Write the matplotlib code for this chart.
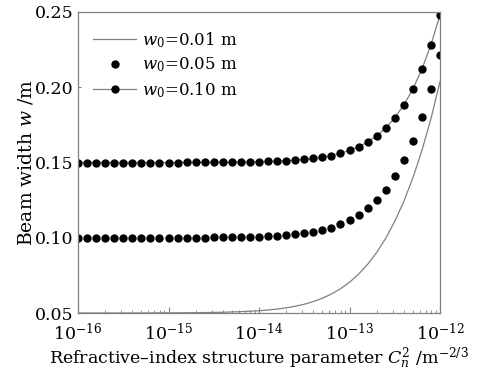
import numpy as np
import matplotlib
matplotlib.use('Agg')
import matplotlib.pyplot as plt
from matplotlib.ticker import FixedLocator, LogFormatterMathtext

plt.rcParams['font.family'] = 'DejaVu Serif'
plt.rcParams['mathtext.fontset'] = 'dejavuserif'

# ── Data ──────────────────────────────────────────────────────
# log10(Cn^2) from -16 to -12 in steps of 0.1
log_cn2 = [-16 + k / 10 for k in range(41)]

w_001 = [0.0500, 0.0500, 0.0500, 0.0500, 0.0500, 0.0500, 0.0500, 0.0500, 0.0500,
         0.0501, 0.0501, 0.0501, 0.0502, 0.0502, 0.0503, 0.0504, 0.0505, 0.0507,
         0.0509, 0.0512, 0.0515, 0.0520, 0.0526, 0.0534, 0.0545, 0.0558, 0.0576,
         0.0598, 0.0626, 0.0661, 0.0704, 0.0758, 0.0823, 0.0902, 0.0996, 0.1109,
         0.1241, 0.1397, 0.1579, 0.1791, 0.2037]

w_005 = [0.1000, 0.1000, 0.1000, 0.1000, 0.1000, 0.1000, 0.1000, 0.1000, 0.1000,
         0.1000, 0.1000, 0.1001, 0.1001, 0.1001, 0.1001, 0.1002, 0.1003, 0.1003,
         0.1004, 0.1006, 0.1008, 0.1010, 0.1013, 0.1018, 0.1023, 0.1030, 0.1040,
         0.1052, 0.1068, 0.1089, 0.1116, 0.1151, 0.1195, 0.1250, 0.1320, 0.1407,
         0.1514, 0.1644, 0.1801, 0.1990, 0.2214]

w_010 = [0.1500, 0.1500, 0.1500, 0.1500, 0.1500, 0.1500, 0.1500, 0.1500, 0.1500,
         0.1500, 0.1500, 0.1500, 0.1501, 0.1501, 0.1501, 0.1501, 0.1502, 0.1502,
         0.1503, 0.1504, 0.1505, 0.1507, 0.1509, 0.1512, 0.1516, 0.1520, 0.1527,
         0.1535, 0.1546, 0.1561, 0.1580, 0.1604, 0.1636, 0.1677, 0.1730, 0.1797,
         0.1882, 0.1988, 0.2120, 0.2282, 0.2480]

x_decades = [-16, -15, -14, -13, -12]
y_ticks = [0.05, 0.10, 0.15, 0.20, 0.25]

cn2 = [10 ** v for v in log_cn2]

# ── Plot ──────────────────────────────────────────────────────
fig = plt.figure(figsize=(4.96, 3.74), dpi=100)
ax = fig.add_axes([78 / 496, 1 - 313 / 374, 362 / 496, 301 / 374])

grey = '#808080'
ax.plot(cn2, w_001, color=grey, lw=0.9, label='$w_0$=0.01 m')
ax.plot(cn2, w_005, ls='none', marker='o', ms=5, color='black',
        label='$w_0$=0.05 m')
ax.plot(cn2, w_010, color=grey, lw=0.9, marker='o', ms=5,
        mfc='black', mec='black', label='$w_0$=0.10 m')

ax.set_xscale('log')
ax.set_xlim(1e-16, 1e-12)
ax.set_ylim(0.05, 0.25)
ax.yaxis.set_major_locator(FixedLocator(y_ticks))
ax.set_yticklabels([f'{v:.2f}' for v in y_ticks])
ax.xaxis.set_major_locator(FixedLocator([10.0 ** d for d in x_decades]))
ax.xaxis.set_major_formatter(LogFormatterMathtext())
minor = [m * 10.0 ** d for d in x_decades[:-1] for m in range(2, 10)]
ax.xaxis.set_minor_locator(FixedLocator(minor))

for s in ax.spines.values():
    s.set_color(grey)
    s.set_linewidth(0.9)
ax.tick_params(which='both', direction='in', color=grey, labelsize=12.5,
               top=False, right=False)
ax.tick_params(axis='x', which='major', length=4, pad=7)
ax.tick_params(axis='y', which='major', length=2, pad=3)
ax.tick_params(which='minor', length=2.5)

ax.set_xlabel('Refractive–index structure parameter $C_n^2$ /m$^{-2/3}$',
              fontsize=12.5, labelpad=1)
ax.set_ylabel('Beam width $w$ /m', fontsize=13.5, labelpad=0)

ax.legend(loc='upper left', frameon=False, fontsize=12, handlelength=2.6,
          handletextpad=0.35, labelspacing=0.35, borderaxespad=0.5,
          bbox_to_anchor=(0.0, 0.99))

fig.savefig('out.png', dpi=100)
